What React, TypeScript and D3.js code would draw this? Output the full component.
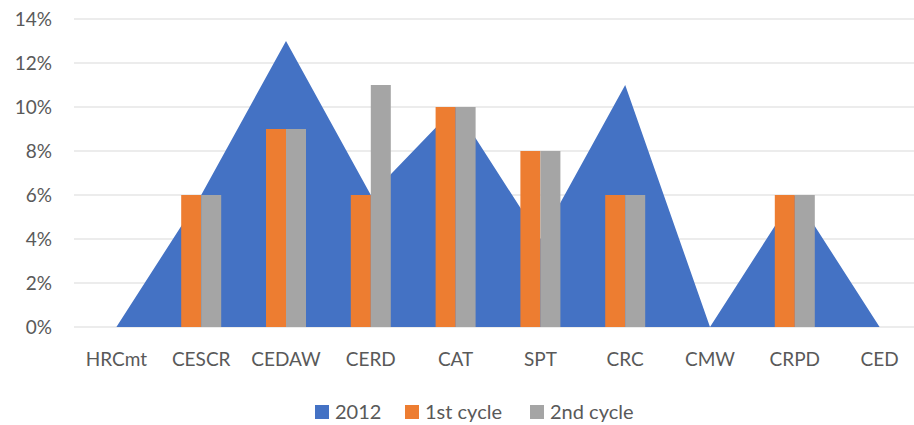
import { useRef, useEffect } from 'react';
import * as d3 from 'd3';

const categories = ['HRCmt', 'CESCR', 'CEDAW', 'CERD', 'CAT', 'SPT', 'CRC', 'CMW', 'CRPD', 'CED'];
const values2012 = [0, 6, 13, 6, 10, 4, 11, 0, 6, 0];
const firstCycle = [0, 6, 9, 6, 10, 8, 6, 0, 6, 0];
const secondCycle = [0, 6, 9, 11, 10, 8, 6, 0, 6, 0];
const yTicks = [0, 2, 4, 6, 8, 10, 12, 14];

const legendItems = [
  { label: '2012', color: '#4472C4', x: 315 },
  { label: '1st cycle', color: '#ED7D31', x: 405 },
  { label: '2nd cycle', color: '#A5A5A5', x: 530 },
];

const width = 914;
const height = 425;
const margin = { top: 19, right: 0, bottom: 98, left: 74 };
const font = 'Lato, "Open Sans", sans-serif';

export default function App() {
  const svgRef = useRef<SVGSVGElement>(null);

  useEffect(() => {
    const svg = d3.select(svgRef.current);
    if (!svg.node()) return;
    svg.selectAll('*').remove();

    const xScale = d3.scaleBand<string>()
      .domain(categories)
      .range([margin.left, 922]);

    const yScale = d3.scaleLinear()
      .domain([0, 14])
      .range([height - margin.bottom, margin.top]);

    const center = (c: string) => (xScale(c) || 0) + xScale.bandwidth() / 2;

    // gridlines
    svg.append('g')
      .selectAll('line')
      .data(yTicks)
      .enter()
      .append('line')
      .attr('x1', margin.left)
      .attr('x2', 922)
      .attr('y1', d => yScale(d))
      .attr('y2', d => yScale(d))
      .attr('stroke', '#d9d9d9')
      .attr('stroke-width', 1.2);

    // y labels
    svg.append('g')
      .selectAll('text')
      .data(yTicks)
      .enter()
      .append('text')
      .attr('x', 52)
      .attr('y', d => yScale(d) + 6.5)
      .attr('text-anchor', 'end')
      .style('font-family', font)
      .style('font-size', '19px')
      .style('fill', '#595959')
      .text(d => `${d}%`);

    // area for 2012
    const area = d3.area<number>()
      .x((_, i) => center(categories[i]))
      .y0(yScale(0))
      .y1(d => yScale(d));

    svg.append('path')
      .datum(values2012)
      .attr('d', area)
      .attr('fill', '#4472C4');

    const barWidth = 20;
    const bars = svg.append('g');
    categories.forEach((c, i) => {
      const cx = center(c);
      bars.append('rect')
        .attr('x', cx - barWidth)
        .attr('y', yScale(firstCycle[i]))
        .attr('width', barWidth)
        .attr('height', yScale(0) - yScale(firstCycle[i]))
        .attr('fill', '#ED7D31');
      bars.append('rect')
        .attr('x', cx)
        .attr('y', yScale(secondCycle[i]))
        .attr('width', barWidth)
        .attr('height', yScale(0) - yScale(secondCycle[i]))
        .attr('fill', '#A5A5A5');
    });

    // x labels
    svg.append('g')
      .selectAll('text')
      .data(categories)
      .enter()
      .append('text')
      .attr('x', d => center(d))
      .attr('y', 366)
      .attr('text-anchor', 'middle')
      .style('font-family', font)
      .style('font-size', '19px')
      .style('fill', '#595959')
      .text(d => d);

    // legend
    const legend = svg.append('g');
    legendItems.forEach(item => {
      legend.append('rect')
        .attr('x', item.x)
        .attr('y', 405)
        .attr('width', 14)
        .attr('height', 14)
        .attr('fill', item.color);
      legend.append('text')
        .attr('x', item.x + 20)
        .attr('y', 419)
        .style('font-family', font)
        .style('font-size', '20px')
        .style('fill', '#595959')
        .text(item.label);
    });
  }, []);

  return (
    <svg
      ref={svgRef}
      width={width}
      height={height}
      style={{ position: 'absolute', left: 0, top: 0, background: '#fff' }}
    />
  );
}
